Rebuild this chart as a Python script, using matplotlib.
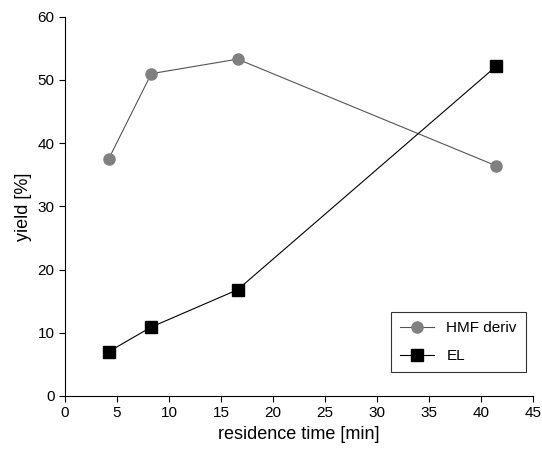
import matplotlib
matplotlib.use("Agg")
import matplotlib.pyplot as plt

time_min = [4.2, 8.3, 16.6, 41.5]
hmf_deriv = [37.5, 51.0, 53.3, 36.4]
el = [7.0, 10.9, 16.8, 52.2]

plt.rcParams['font.family'] = ['Liberation Sans', 'DejaVu Sans']
fig = plt.figure(figsize=(5.42, 4.54), dpi=100)
ax = fig.add_axes([0.12, 0.128, 0.863, 0.835])

ax.plot(time_min, hmf_deriv, color='#555555', lw=0.8, marker='o', ms=8,
        mfc='#808080', mec='#808080', label='HMF deriv')
ax.plot(time_min, el, color='black', lw=0.8, marker='s', ms=8,
        mfc='black', mec='black', label='EL')

ax.set_xlim(0, 45)
ax.set_ylim(0, 60)
ax.set_xticks(range(0, 46, 5))
ax.set_yticks(range(0, 61, 10))
ax.spines['top'].set_visible(False)
ax.spines['right'].set_visible(False)
ax.tick_params(direction='out', length=4, labelsize=11)
ax.set_xlabel('residence time [min]', fontsize=13)
ax.set_ylabel('yield [%]', fontsize=13)
leg = ax.legend(loc='lower right', bbox_to_anchor=(0.995, 0.05), fontsize=11,
                frameon=True, fancybox=False, edgecolor='black',
                handlelength=2.2, borderaxespad=0.3, labelspacing=0.9,
                borderpad=0.6)
leg.get_frame().set_linewidth(0.8)

fig.savefig('out.png', dpi=100)
